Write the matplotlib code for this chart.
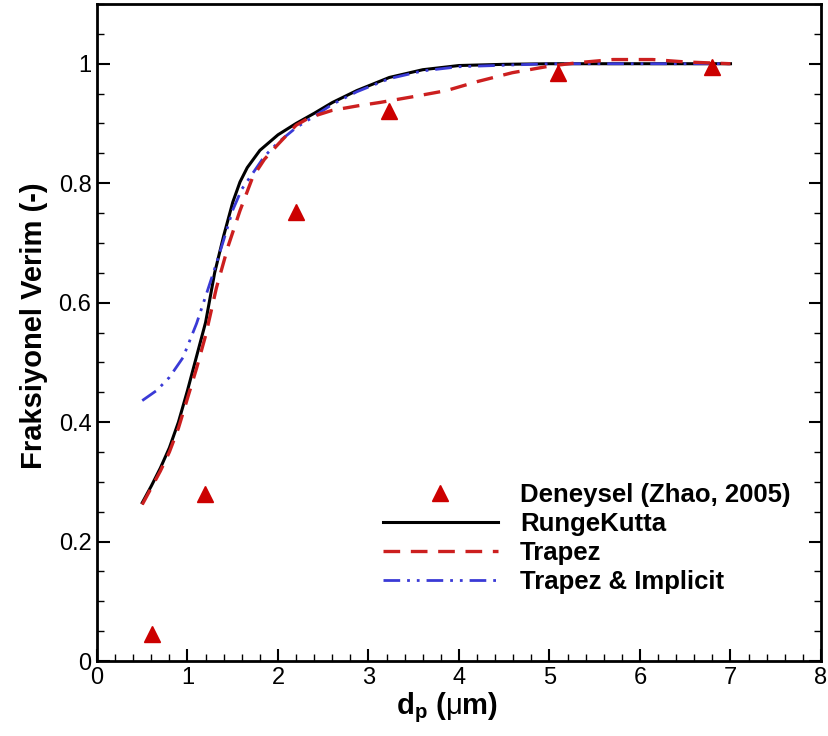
import matplotlib
matplotlib.use("Agg")
import matplotlib.pyplot as plt
from matplotlib.ticker import MultipleLocator
from matplotlib import font_manager

names = {f.name for f in font_manager.fontManager.ttflist}
tick_font = "Liberation Sans Narrow" if "Liberation Sans Narrow" in names else "Liberation Sans"

plt.rcParams["mathtext.fontset"] = "custom"
plt.rcParams["mathtext.rm"] = "Liberation Sans"
plt.rcParams["mathtext.bf"] = "Liberation Sans:bold"
plt.rcParams["mathtext.it"] = "Liberation Sans:italic"

# Experimental data
exp_x = [0.61, 1.19, 2.2, 3.23, 5.09, 6.8]
exp_y = [0.045, 0.279, 0.751, 0.921, 0.985, 0.995]

# RungeKutta
rk_x = [0.5, 0.6, 0.7, 0.8, 0.9, 1.0, 1.1, 1.2, 1.3, 1.4, 1.5, 1.58, 1.66, 1.8, 2.0, 2.2, 2.4, 2.6, 2.87, 3.23, 3.6, 4.0, 4.5, 5.0, 6.0, 7.0]
rk_y = [0.265, 0.293, 0.323, 0.357, 0.4, 0.453, 0.51, 0.567, 0.65, 0.712, 0.768, 0.802, 0.826, 0.855, 0.881, 0.9, 0.917, 0.935, 0.955, 0.977, 0.99, 0.997, 0.999, 1.0, 1.0, 1.0]

# Trapez
tr_x = [0.5, 0.6, 0.7, 0.8, 0.9, 1.0, 1.1, 1.2, 1.32, 1.45, 1.58, 1.72, 1.85, 2.0, 2.2, 2.35, 2.6, 2.9, 3.12, 3.5, 3.86, 4.2, 4.59, 5.0, 5.33, 5.7, 6.14, 6.5, 7.0]
tr_y = [0.262, 0.29, 0.318, 0.35, 0.39, 0.44, 0.49, 0.545, 0.625, 0.695, 0.754, 0.81, 0.84, 0.865, 0.897, 0.91, 0.922, 0.93, 0.935, 0.945, 0.955, 0.97, 0.985, 0.996, 1.002, 1.007, 1.007, 1.003, 1.0]

# Trapez & Implicit
ti_x = [0.5, 0.66, 0.8, 0.95, 1.1, 1.21, 1.32, 1.4, 1.5, 1.6, 1.7, 1.85, 2.0, 2.2, 2.4, 2.6, 2.87, 3.23, 3.6, 4.0, 5.0, 6.0, 7.0]
ti_y = [0.436, 0.453, 0.475, 0.508, 0.565, 0.615, 0.666, 0.705, 0.755, 0.79, 0.812, 0.845, 0.868, 0.893, 0.912, 0.932, 0.953, 0.975, 0.988, 0.995, 1.0, 1.0, 1.0]

fig = plt.figure(figsize=(8.29, 7.36), dpi=100)
ax = fig.add_axes([97/829, 1-661/736, (821-97)/829, (661-4)/736])

ax.plot(rk_x, rk_y, color="black", lw=2.2, label="RungeKutta", zorder=3)
ax.plot(tr_x, tr_y, color="#cc1f1f", lw=2.4, dashes=(5, 3.2), label="Trapez", zorder=4)
ax.plot(ti_x, ti_y, color="#3a3ad6", lw=2.0, dashes=(6, 2.5, 1, 2.5, 1, 2.5), label="Trapez & Implicit", zorder=3)
ax.plot(exp_x, exp_y, linestyle="none", marker="^", ms=11, color="#cc0000",
        label="Deneysel (Zhao, 2005)", zorder=5)

ax.set_xlim(0, 8)
ax.set_ylim(0, 1.1)
ax.xaxis.set_major_locator(MultipleLocator(1))
ax.xaxis.set_minor_locator(MultipleLocator(0.2))
ax.yaxis.set_major_locator(MultipleLocator(0.2))
ax.yaxis.set_minor_locator(MultipleLocator(0.05))
ax.tick_params(which="both", direction="in", top=False, right=True, width=1.5)
ax.tick_params(which="major", length=9, labelsize=17, pad=4)
ax.tick_params(which="minor", length=5, width=1)
for s in ax.spines.values():
    s.set_linewidth(2)

ax.set_xticklabels([f"{int(v)}" for v in ax.get_xticks()], fontfamily=tick_font)
ytick_vals = ax.get_yticks()
ax.set_yticklabels(["0" if v == 0 else ("1" if abs(v-1) < 1e-9 else f"{v:.1f}") for v in ytick_vals], fontfamily=tick_font)

ax.set_xlabel(r"d$_\mathbf{p}$ ($\mathrm{\mu}$m)", fontsize=21, fontweight="bold", fontfamily="Liberation Sans", labelpad=2)
ax.xaxis.set_label_coords(0.484, -0.045, transform=ax.transAxes)
ax.xaxis.label.set_va("top")
ax.set_ylabel("Fraksiyonel Verim (-)", fontsize=21, fontweight="bold", fontfamily="Liberation Sans", labelpad=6)
ax.yaxis.set_label_coords(-0.068, 0.51)

handles, labels = ax.get_legend_handles_labels()
order = [3, 0, 1, 2]
leg = ax.legend([handles[i] for i in order], [labels[i] for i in order],
                loc="upper left", bbox_to_anchor=(383/829, 1-483/736), bbox_transform=fig.transFigure,
                frameon=False, handlelength=4.47, handletextpad=0.86, labelspacing=0.2,
                borderpad=0, borderaxespad=0, prop={"family": "Liberation Sans", "weight": "bold", "size": 18.5})

fig.savefig("out.png", dpi=100)
